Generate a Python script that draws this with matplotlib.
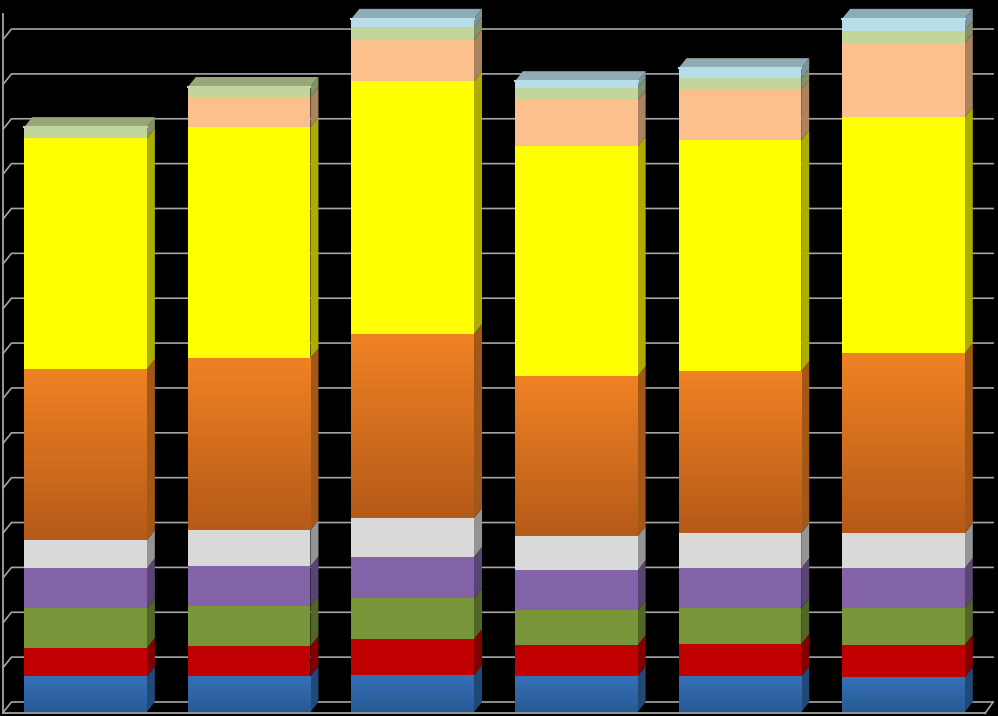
# 3D look stacked bars on black, drawn by hand since mplot3d perspective does not fit

import numpy as np
import matplotlib.pyplot as plt
from matplotlib.colors import to_rgb

# segment heights per column, bottom to top
blue = [16.0, 16.0, 16.5, 16.0, 16.0, 15.6]
red = [12.5, 13.4, 16.0, 13.8, 14.3, 14.3]
green = [17.8, 17.8, 18.3, 15.6, 16.0, 16.5]
purple = [17.8, 17.8, 18.3, 17.8, 17.8, 17.8]
white = [12.5, 16.0, 17.4, 15.2, 15.6, 15.6]
orange = [76.2, 76.7, 82.0, 71.3, 72.2, 80.2]
yellow = [103.0, 103.0, 112.8, 102.5, 103.0, 105.2]
peach = [0.0, 13.4, 18.3, 20.5, 22.7, 33.0]
pale_green = [4.9, 4.5, 5.8, 5.4, 4.9, 5.4]
pale_blue = [0.0, 0.0, 3.6, 3.1, 4.5, 5.4]

series = [blue, red, green, purple, white, orange, yellow, peach, pale_green, pale_blue]
colors = ["#2f6bb0", "#c00000", "#789639", "#8364a8", "#d9d9d9", "#f08224",
          "#ffff00", "#fcc08c", "#c2d69b", "#b7dde8"]
# (top colour, bottom colour) for the segments that fade
fades = {0: ("#3570b8", "#285a94"), 5: ("#f08224", "#b55a18")}

grid_values = np.arange(0, 301, 20)

# depth of the fake 3D box, in data units
DX = 0.049
DY = 4.46
BAR_W = 0.75

fig = plt.figure(figsize=(9.98, 7.16), dpi=100, facecolor="black")
ax = fig.add_axes([0, 0, 1, 1], facecolor="black")
ax.set_xlim(-0.5226, 5.578)
ax.set_ylim(-1.78, 317.4)
ax.axis("off")

GRID = "#a6a6a6"
x0 = -0.5015
x1 = 5.548
floor = -0.6
ax.plot([x0, x0], [floor, 311], color=GRID, lw=1.3, zorder=1)
ax.plot([x0, x1 - DX], [floor, floor], color=GRID, lw=1.3, zorder=5)
ax.plot([x1 - DX, x1], [floor, DY], color=GRID, lw=1.2, zorder=1)
for v in grid_values:
    ax.plot([x0, x0 + DX, x1], [v, v + DY, v + DY], color=GRID, lw=1.2, zorder=1)


def darker(c, f):
    return tuple(np.array(to_rgb(c)) * f)


for i in range(len(blue)):
    left = i - BAR_W / 2
    right = i + BAR_W / 2
    bottom = 0.0
    for k, vals in enumerate(series):
        h = vals[i]
        if h == 0:
            continue
        top = bottom + h
        z = 3 + k * 0.01
        # side face
        ax.fill([right, right + DX, right + DX, right],
                [bottom, bottom + DY, top + DY, top],
                color=darker(colors[k], 0.68), lw=0, zorder=z)
        # front face
        if k in fades:
            c_top, c_bot = fades[k]
            t = np.linspace(0, 1, 256)[:, None]
            grad = np.array(to_rgb(c_top)) * (1 - t) + np.array(to_rgb(c_bot)) * t
            ax.imshow(grad[:, None, :], extent=[left, right, bottom, top], aspect="auto",
                      zorder=z + 0.001, interpolation="bilinear")
        else:
            ax.bar(i, h, BAR_W, bottom=bottom, color=colors[k], lw=0, zorder=z + 0.001)
        bottom = top
    # top face takes the colour of the highest segment
    top_k = max(k for k, vals in enumerate(series) if vals[i] > 0)
    ax.fill([left, left + DX, right + DX, right],
            [bottom, bottom + DY, bottom + DY, bottom],
            color=darker(colors[top_k], 0.78), lw=0, zorder=4)
    ax.plot([left, right], [bottom, bottom], color=colors[top_k], lw=1.5, zorder=4.1)

ax.set_xlim(-0.5226, 5.578)
ax.set_ylim(-1.78, 317.4)

fig.savefig("out.png", dpi=100, facecolor="black")
